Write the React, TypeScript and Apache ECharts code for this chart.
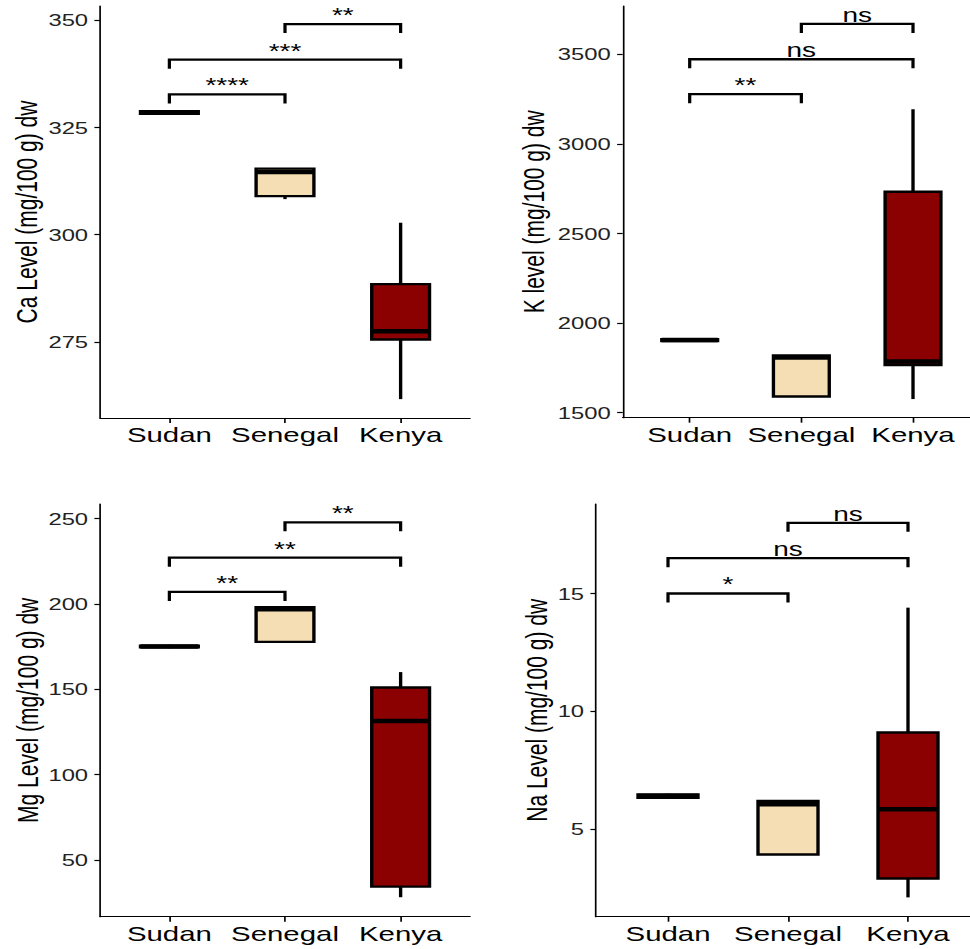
import React, { useEffect, useRef } from "react";
import * as echarts from "echarts";

// ---- data ----
const categories = ["Sudan", "Senegal", "Kenya"];
const boxFills = ["#1a1a1a", "#F5DEB3", "#8B0000"];

// [min, Q1, median, Q3, max] per category
const caStats = [
  [328.1, 328.2, 328.5, 328.8, 329.0],
  [308.3, 309.0, 314.6, 315.4, 315.5],
  [261.7, 275.6, 277.5, 288.5, 302.8],
];
const kStats = [
  [1898, 1900, 1905, 1910, 1912],
  [1589, 1590, 1808, 1820, 1822],
  [1576, 1766, 1785, 2733, 3193],
];
const mgStats = [
  [174, 174.5, 175, 175.5, 176],
  [177.6, 177.7, 196.8, 198, 198.1],
  [28.2, 34.4, 131.4, 151, 160],
];
const naStats = [
  [6.3, 6.33, 6.4, 6.47, 6.5],
  [3.9, 3.92, 6.05, 6.19, 6.2],
  [2.1, 2.9, 5.84, 9.1, 14.4],
];

// brackets: [fromIndex, toIndex, y]
const caBrackets = [[0, 1, 332.7], [0, 2, 340.8], [1, 2, 349.1]];
const caSig = ["****", "***", "**"];
const kBrackets = [[0, 1, 3277], [0, 2, 3472], [1, 2, 3669]];
const kSig = ["**", "ns", "ns"];
const mgBrackets = [[0, 1, 206.9], [0, 2, 227], [1, 2, 247.7]];
const mgSig = ["**", "**", "**"];
const naBrackets = [[0, 1, 15.0], [0, 2, 16.5], [1, 2, 18.0]];
const naSig = ["*", "ns", "ns"];

const caTicks = [275, 300, 325, 350];
const kTicks = [1500, 2000, 2500, 3000, 3500];
const mgTicks = [50, 100, 150, 200, 250];
const naTicks = [5, 10, 15];

const S = 1.4; // horizontal stretch of the original figure
const FONT = "'Liberation Sans', Arial, Helvetica, sans-serif";

function boxRender(params: any, api: any) {
  const i = api.value(0);
  const vMin = api.value(1), q1 = api.value(2), med = api.value(3), q3 = api.value(4), vMax = api.value(5);
  const xc = api.coord([i, med])[0];
  const xl = api.coord([i - 0.25, med])[0];
  const xr = api.coord([i + 0.25, med])[0];
  const yMin = api.coord([i, vMin])[1];
  const yQ1 = api.coord([i, q1])[1];
  const yMed = api.coord([i, med])[1];
  const yQ3 = api.coord([i, q3])[1];
  const yMax = api.coord([i, vMax])[1];
  const lineStyle = { stroke: "#000", lineWidth: 2.4 };
  return {
    type: "group",
    children: [
      { type: "line", shape: { x1: xc, y1: yMax, x2: xc, y2: yQ3 }, style: lineStyle },
      { type: "line", shape: { x1: xc, y1: yQ1, x2: xc, y2: yMin }, style: lineStyle },
      {
        type: "rect",
        shape: { x: xl, y: yQ3, width: xr - xl, height: Math.max(yQ1 - yQ3, 0.5) },
        style: { fill: boxFills[params.dataIndex], stroke: "#000", lineWidth: 2.4 },
      },
      { type: "line", shape: { x1: xl, y1: yMed, x2: xr, y2: yMed }, style: { stroke: "#000", lineWidth: 4.5 } },
    ],
  };
}

function bracketRender(labels: string[]) {
  return (params: any, api: any) => {
    const a = api.value(0), b = api.value(1), y = api.value(2);
    const p1 = api.coord([a, y]);
    const p2 = api.coord([b, y]);
    const tip = 9;
    return {
      type: "group",
      children: [
        {
          type: "polyline",
          shape: { points: [[p1[0], p1[1] + tip], [p1[0], p1[1]], [p2[0], p2[1]], [p2[0], p2[1] + tip]] },
          style: { stroke: "#000", lineWidth: 2.3, fill: "none" },
        },
        {
          type: "text",
          style: {
            text: labels[params.dataIndex],
            x: (p1[0] + p2[0]) / 2,
            y: p1[1] + 1,
            align: "center",
            verticalAlign: "bottom",
            fontSize: 20,
            fontFamily: FONT,
            fill: "#000",
          },
        },
      ],
    };
  };
}

export default function App() {
  const ref = useRef<HTMLDivElement>(null);
  useEffect(() => {
    if (!ref.current) return;
    const chart = echarts.init(ref.current, null, { renderer: "svg" });

    const panels = [
      { left: 100, right: 470, top: 6, bottom: 418, min: 257.3, max: 353.3, ticks: caTicks, name: "Ca Level (mg/100 g) dw", gap: 73, stats: caStats, br: caBrackets, sig: caSig },
      { left: 622.7, right: 980, top: 6, bottom: 417.7, min: 1472, max: 3769, ticks: kTicks, name: "K level (mg/100 g) dw", gap: 89, stats: kStats, br: kBrackets, sig: kSig },
      { left: 100, right: 470, top: 504, bottom: 916.7, min: 16.8, max: 258.4, ticks: mgTicks, name: "Mg Level (mg/100 g) dw", gap: 72, stats: mgStats, br: mgBrackets, sig: mgSig },
      { left: 596, right: 980, top: 504, bottom: 916.7, min: 1.28, max: 18.8, ticks: naTicks, name: "Na Level (mg/100 g) dw", gap: 59, stats: naStats, br: naBrackets, sig: naSig },
    ];

    const axisLine = { show: true, onZero: false, lineStyle: { color: "#000", width: 1.2 } };

    const option: any = {
      animation: false,
      backgroundColor: "#fff",
      grid: panels.map((p) => ({
        left: p.left / S,
        width: (p.right - p.left) / S,
        top: p.top,
        height: p.bottom - p.top,
        containLabel: false,
        outerBoundsMode: "none",
      })),
      xAxis: panels.map((p, k) => ({
        gridIndex: k,
        type: "value",
        min: -0.6,
        max: 2.6,
        axisLine,
        axisTick: { show: true, length: 5, lineStyle: { color: "#000", width: 1.2 }, customValues: [0, 1, 2] },
        axisLabel: {
          customValues: [0, 1, 2],
          formatter: (v: number) => categories[Math.round(v)],
          fontSize: 21,
          fontFamily: FONT,
          color: "#000",
          margin: 6,
        },
        splitLine: { show: false },
      })),
      yAxis: panels.map((p, k) => ({
        gridIndex: k,
        type: "value",
        min: p.min,
        max: p.max,
        axisLine,
        axisTick: { show: true, length: 4, lineStyle: { color: "#000", width: 1.2 }, customValues: p.ticks },
        axisLabel: {
          customValues: p.ticks,
          formatter: (v: number) => String(v),
          fontSize: 17,
          fontFamily: FONT,
          color: "#222",
          margin: 8.5,
        },
        splitLine: { show: false },
        name: p.name,
        nameLocation: "middle",
        nameGap: (p.gap - 14.7) / S,
        nameTextStyle: { fontSize: 21, fontFamily: FONT, color: "#000" },
      })),
      series: [
        ...panels.map((p, k) => ({
          type: "custom",
          xAxisIndex: k,
          yAxisIndex: k,
          renderItem: boxRender,
          encode: { x: 0, y: [1, 2, 3, 4, 5] },
          data: p.stats.map((s, i) => [i, ...s]),
        })),
        ...panels.map((p, k) => ({
          type: "custom",
          xAxisIndex: k,
          yAxisIndex: k,
          renderItem: bracketRender(p.sig),
          encode: { x: [0, 1], y: 2 },
          data: p.br,
        })),
      ],
    };
    chart.setOption(option);
    return () => chart.dispose();
  }, []);

  return (
    <div style={{ position: "absolute", left: 0, top: 0, width: 970, height: 949, overflow: "hidden", background: "#fff" }}>
      <div
        ref={ref}
        style={{ width: 1000 / S, height: 949, transform: `scaleX(${S})`, transformOrigin: "0 0" }}
      />
    </div>
  );
}
